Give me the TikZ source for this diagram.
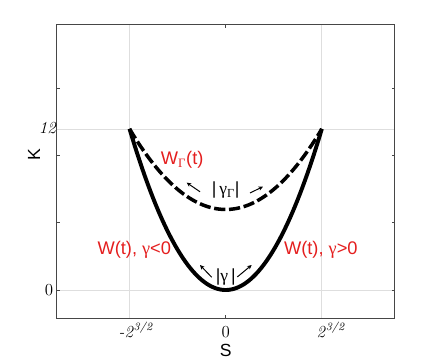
\documentclass[tikz,border=0pt]{standalone}
\usepackage{xcolor}
\usepackage{fontspec}
\usepackage{tikz}
\usetikzlibrary{arrows.meta, positioning}
\newfontfamily\labelfont{Liberation Sans}
\newfontfamily\greekfont{Liberation Serif}
\newcommand{\gam}{{\greekfont γ}}
\newcommand{\Gam}{{\greekfont Γ}}
\definecolor{wred}{RGB}{228,30,30}
\definecolor{boxgray}{RGB}{70,70,70}
\definecolor{gridgray}{RGB}{222,222,222}

\begin{document}
\begin{tikzpicture}[>=Stealth, x=0.8495cm, y=0.3355cm,
    gridline/.style={gridgray, line width=0.6pt},
    tickmark/.style={boxgray, line width=0.6pt},
    curveline/.style={black, line width=2.8pt, line join=round},
    smallarrow/.style={->, black, line width=0.7pt, >={Stealth[length=3.2pt,width=3pt]}},
    redlabel/.style={wred, font=\labelfont\fontsize{13}{15}\selectfont},
    blacklabel/.style={black, font=\labelfont\fontsize{12.5}{15}\selectfont},
    ticklabel/.style={black, font=\fontsize{12}{14}\selectfont}]
      \useasboundingbox (-6.642,-5.44) rectangle (6.189,21.61);
      % grid
      \draw[gridline] (-2.83,-2.12) -- (-2.83,19.8);
      \draw[gridline] (2.83,-2.12) -- (2.83,19.8);
      \draw[gridline] (-4.965,0) -- (4.98,0);
      \draw[gridline] (-4.965,12) -- (4.98,12);
      % ticks
      \foreach \k in {0,5,10,15} {
        \draw[tickmark] (-4.965,\k) -- ++(0.09,0);
        \draw[tickmark] (4.98,\k) -- ++(-0.09,0);
      }
      \draw[tickmark] (0,19.8) -- ++(0,-0.25);
      \draw[tickmark] (0,-2.12) -- ++(0,0.25);
      \draw[boxgray, line width=0.7pt] (-4.965,-2.12) rectangle (4.98,19.8);
      % curves
      \draw[curveline] plot[domain=-2.83:2.83, samples=80] (\x,{1.5*\x*\x});
      \draw[curveline, line width=2.5pt, dash pattern=on 8pt off 2.6pt] plot[domain=-2.83:2.83, samples=80] (\x,{6+0.75*\x*\x});
      % small arrows
      \coordinate (gGl0) at (-0.756,7.32);  \coordinate (gGl1) at (-1.148,8.0);
      \coordinate (gGr0) at (0.715,7.23);   \coordinate (gGr1) at (1.098,7.70);
      \coordinate (gl0) at (-0.412,0.95);   \coordinate (gl1) at (-0.756,1.86);
      \coordinate (gr0) at (0.341,0.97);    \coordinate (gr1) at (0.765,1.86);
      \draw[smallarrow] (gGl0) -- (gGl1);
      \draw[smallarrow] (gGr0) -- (gGr1);
      \draw[smallarrow] (gl0) -- (gl1);
      \draw[smallarrow] (gr0) -- (gr1);
      % labels
      \node[blacklabel] (absgG) at (0,7.45) {|\,\gam\textsubscript{\Gam}|};
      \node[blacklabel] (absg) at (0,1.0) {|\gam\,|};
      \node[redlabel] (WG) at (-1.28,9.69) {W\textsubscript{\Gam}(t)};
      \node[redlabel] (Wneg) at (-2.69,2.98) {W(t), \gam<0};
      \node[redlabel] (Wpos) at (2.80,3.02) {W(t), \gam>0};
      % axis labels
      \node[blacklabel, rotate=90] (Klab) at (-5.64,10.06) {K};
      \node[blacklabel] (Slab) at (0,-4.47) {S};
      \node[ticklabel] (k12) at (-5.24,12.1) {\textit{12}};
      \node[ticklabel] (k0) at (-5.2,0) {0};
      \node[ticklabel] (sneg) at (-2.64,-2.98) {\textit{-2}\textsuperscript{\textit{3/2}}};
      \node[ticklabel] (szero) at (0,-3.1) {0};
      \node[ticklabel] (spos) at (3.10,-2.98) {\textit{2}\textsuperscript{\textit{3/2}}};
    \end{tikzpicture}
\end{document}
